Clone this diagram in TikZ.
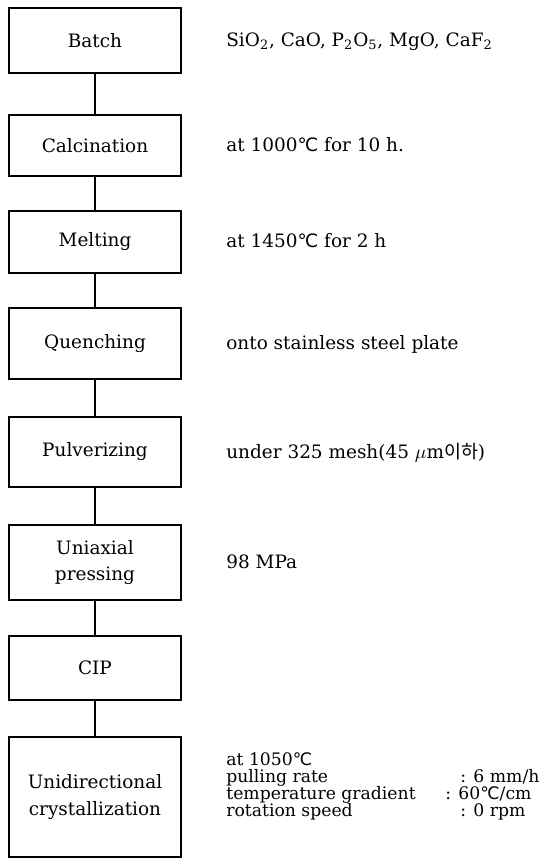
\documentclass[tikz,border=0pt]{standalone}
\usepackage{fontspec}
\setmainfont{DejaVu Serif}
\newfontfamily\coreano{Noto Sans CJK KR}
\newfontfamily\simbolo{DejaVu Sans}
\usepackage{tikz}
\usetikzlibrary{positioning, calc}
\newcommand{\graus}{{\simbolo ℃}}

\begin{document}
\begin{tikzpicture}[
  etapa/.style={draw, line width=1.5pt, minimum width=3.44cm, align=center, inner sep=2pt, font=\fontsize{10.5}{15.3}\selectfont},
  liga/.style={line width=1.5pt},
  nota/.style={anchor=base west, inner sep=0pt, font=\fontsize{10.5}{12}\selectfont},
  param/.style={nota, font=\fontsize{9.8}{11}\selectfont}
]
% --- FLUXOGRAMA DO PROCESSO, CAIXAS A ESQUERDA E CONDICOES A DIREITA ---
\useasboundingbox (0,0) rectangle (10.88,-17.24);

% LAYER 1: Etapas (caixas)
\node (batch) at (1.9,-0.81) [etapa, minimum height=1.30cm] {Batch};
\node (calc) at (1.9,-2.91) [etapa, minimum height=1.22cm] {Calcination};
\node (melt) at (1.9,-4.84) [etapa, minimum height=1.24cm] {Melting};
\node (quench) at (1.9,-6.87) [etapa, minimum height=1.42cm] {Quenching};
\node (pulv) at (1.9,-9.04) [etapa, minimum height=1.40cm] {Pulverizing};
\node (press) at (1.9,-11.25) [etapa, minimum height=1.50cm] {Uniaxial\\pressing};
\node (cip) at (1.9,-13.36) [etapa, minimum height=1.28cm] {CIP};
\node (cryst) at (1.9,-15.94) [etapa, minimum height=2.40cm] {Unidirectional\\crystallization};

% LAYER 2: Ligacoes entre etapas
\draw[liga] (batch) -- (calc);
\draw[liga] (calc) -- (melt);
\draw[liga] (melt) -- (quench);
\draw[liga] (quench) -- (pulv);
\draw[liga] (pulv) -- (press);
\draw[liga] (press) -- (cip);
\draw[liga] (cip) -- (cryst);

% LAYER 3: Condicoes de cada etapa
\node (cBatch) at (4.52,-0.93) [nota] {SiO\textsubscript{2}, CaO, P\textsubscript{2}O\textsubscript{5}, MgO, CaF\textsubscript{2}};
\node (cCalc) at (4.52,-3.03) [nota] {at 1000\graus\ for 10 h.};
\node (cMelt) at (4.52,-4.96) [nota] {at 1450\graus\ for 2 h};
\node (cQuench) at (4.52,-6.99) [nota] {onto stainless steel plate};
\node (cPulv) at (4.52,-9.16) [nota] {under 325 mesh(45 $\mu$m{\coreano 이하})};
\node (cPress) at (4.52,-11.37) [nota] {98 MPa};

% LAYER 4: Condicoes da cristalizacao
\node (cTemp) at (4.52,-15.30) [param] {at 1050\graus};
\node (cPull) at (4.52,-15.64) [param] {pulling rate};
\node (cGrad) at (4.52,-15.98) [param] {temperature gradient};
\node (cRot) at (4.52,-16.32) [param] {rotation speed};
\node (vPull) at (9.2,-15.64) [param] {: 6 mm/h};
\node (vGrad) at (8.9,-15.98) [param] {: 60\graus/cm};
\node (vRot) at (9.2,-16.32) [param] {: 0 rpm};
\end{tikzpicture}
\end{document}
